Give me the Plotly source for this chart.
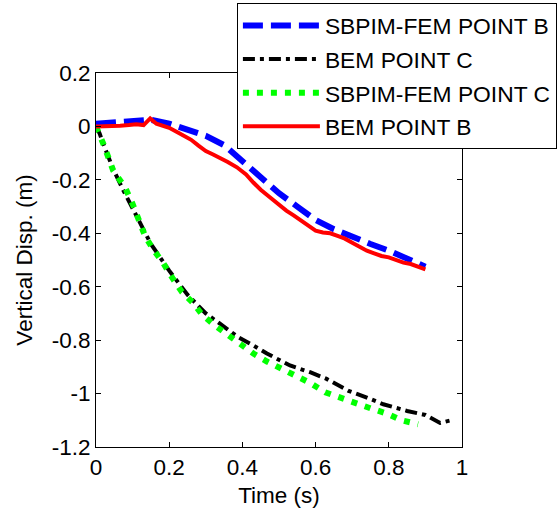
import plotly.graph_objects as go

# SBPIM-FEM POINT B (blue dashed)
t_sb_b = [0, 0.05, 0.1, 0.15, 0.2, 0.25, 0.3, 0.35, 0.4, 0.45, 0.5, 0.55, 0.6, 0.65, 0.7, 0.75, 0.8, 0.85, 0.9]
d_sb_b = [0.01, 0.015, 0.025, 0.025, 0.01, -0.01, -0.035, -0.07, -0.13, -0.19, -0.25, -0.30, -0.35, -0.385, -0.415, -0.44, -0.465, -0.495, -0.525]

# BEM POINT C (black dash-dot)
t_bem_c = [0, 0.01, 0.02, 0.047, 0.075, 0.11, 0.15, 0.2, 0.25, 0.3, 0.35, 0.39, 0.43, 0.467, 0.53, 0.585, 0.63, 0.69, 0.74, 0.785, 0.85, 0.90, 0.94, 0.97]
d_bem_c = [0, -0.027, -0.065, -0.16, -0.24, -0.33, -0.44, -0.54, -0.63, -0.70, -0.75, -0.79, -0.82, -0.85, -0.895, -0.92, -0.945, -0.99, -1.015, -1.04, -1.065, -1.08, -1.11, -1.10]

# SBPIM-FEM POINT C (green dotted)
t_sb_c = [0, 0.01, 0.02, 0.047, 0.08, 0.10, 0.115, 0.134, 0.156, 0.183, 0.21, 0.235, 0.265, 0.29, 0.325, 0.36, 0.39, 0.43, 0.467, 0.51, 0.55, 0.585, 0.626, 0.667, 0.71, 0.75, 0.795, 0.835, 0.88]
d_sb_c = [0, -0.03, -0.065, -0.165, -0.23, -0.29, -0.35, -0.41, -0.46, -0.51, -0.57, -0.62, -0.66, -0.705, -0.745, -0.78, -0.815, -0.85, -0.88, -0.91, -0.94, -0.96, -0.995, -1.015, -1.04, -1.055, -1.075, -1.10, -1.115]

# BEM POINT B (red solid)
t_bem_b = [0, 0.03, 0.066, 0.09, 0.11, 0.13, 0.148, 0.165, 0.18, 0.2, 0.23, 0.26, 0.28, 0.30, 0.32, 0.34, 0.36, 0.385, 0.41, 0.43, 0.45, 0.475, 0.5, 0.52, 0.54, 0.56, 0.58, 0.60, 0.62, 0.64, 0.66, 0.68, 0.70, 0.72, 0.74, 0.76, 0.78, 0.80, 0.82, 0.84, 0.86, 0.88, 0.9]
d_bem_b = [0, 0.0, 0.003, 0.005, 0.008, 0.005, 0.03, 0.01, 0.003, -0.005, -0.027, -0.05, -0.072, -0.092, -0.105, -0.117, -0.133, -0.153, -0.18, -0.21, -0.237, -0.265, -0.295, -0.315, -0.333, -0.352, -0.372, -0.39, -0.397, -0.40, -0.41, -0.42, -0.435, -0.45, -0.465, -0.475, -0.485, -0.49, -0.50, -0.51, -0.515, -0.525, -0.535]

x_ticks = [0, 0.2, 0.4, 0.6, 0.8, 1]
y_ticks = [0.2, 0, -0.2, -0.4, -0.6, -0.8, -1, -1.2]

FONT = "Liberation Sans, Arial, sans-serif"
FS = 22.5

fig = go.Figure()
fig.add_trace(go.Scatter(x=t_sb_b, y=d_sb_b, mode="lines", name="SBPIM-FEM POINT B", legendgroup="a",
                         line=dict(color="#0000ff", width=6, dash="20px,8px")))
fig.add_trace(go.Scatter(x=t_bem_c, y=d_bem_c, mode="lines", name="BEM POINT C", legendgroup="b",
                         line=dict(color="#000000", width=4, dash="12px,5px,4px,5px")))
fig.add_trace(go.Scatter(x=t_sb_c, y=d_sb_c, mode="lines", name="SBPIM-FEM POINT C", legendgroup="c",
                         line=dict(color="#00ff00", width=6, dash="6px,8px")))
fig.add_trace(go.Scatter(x=t_bem_b, y=d_bem_b, mode="lines", name="BEM POINT B", legendgroup="d",
                         line=dict(color="#ff0000", width=4)))

axis_common = dict(showgrid=False, zeroline=False, showline=True, linecolor="black", linewidth=1,
                   mirror="ticks", ticks="inside", ticklen=5, tickcolor="black",
                   tickfont=dict(size=FS, color="black", family=FONT))

fig.update_xaxes(range=[0, 1], tickvals=x_ticks, ticktext=[str(v) for v in x_ticks],
                 title=dict(text="Time (s)", font=dict(size=FS, color="black", family=FONT), standoff=8),
                 **axis_common)
fig.update_yaxes(range=[-1.2, 0.2], tickvals=y_ticks, ticktext=[("%g" % v) for v in y_ticks],
                 title=dict(text="Vertical Disp. (m)", font=dict(size=FS, color="black", family=FONT), standoff=12),
                 **axis_common)

fig.update_layout(
    width=557, height=518,
    margin=dict(l=96, r=95, t=73, b=71, autoexpand=False),
    paper_bgcolor="white", plot_bgcolor="white",
    font=dict(family=FONT, size=FS, color="black"),
    showlegend=True,
    legend=dict(x=0.385, xanchor="left", y=1.187, yanchor="top",
                bgcolor="white", bordercolor="black", borderwidth=1,
                font=dict(size=22.8, color="black", family=FONT),
                itemwidth=77, tracegroupgap=1),
)

fig.write_html("out.html")
